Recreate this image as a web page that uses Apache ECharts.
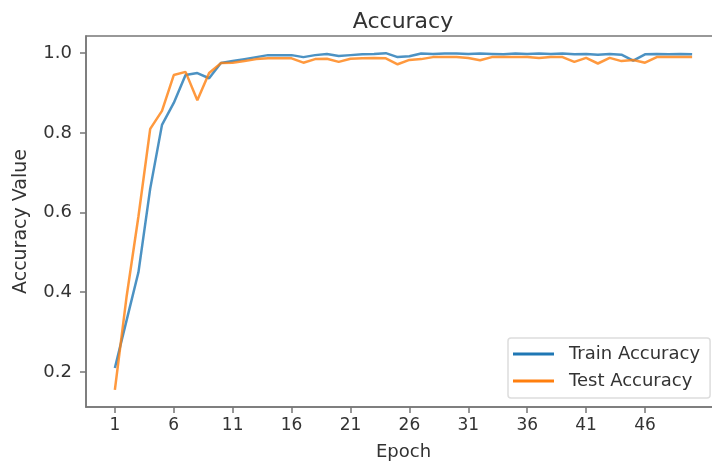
<!DOCTYPE html>
<html>
<head>
<meta charset="utf-8">
<script src="https://cdn.jsdelivr.net/npm/echarts@6/dist/echarts.min.js"></script>
<style>html,body{margin:0;padding:0;background:#fff}#c{width:712px;height:464px}</style>
</head>
<body>
<div id="c"></div>
<script>
var epochs = [];
for (var i = 1; i <= 50; i++) epochs.push(i);
var trainAcc = [0.21,0.33,0.45,0.66,0.82,0.875,0.945,0.95,0.937,0.975,
  0.98,0.985,0.99,0.995,0.995,0.995,0.99,0.995,0.998,0.993,
  0.995,0.997,0.998,1.0,0.99,0.992,0.999,0.998,0.999,0.999,
  0.998,0.999,0.998,0.997,0.999,0.998,0.999,0.998,0.999,0.997,
  0.998,0.996,0.998,0.996,0.981,0.997,0.998,0.997,0.998,0.997];
var testAcc = [0.155,0.39,0.59,0.81,0.855,0.945,0.953,0.882,0.95,0.975,
  0.976,0.98,0.985,0.987,0.987,0.987,0.976,0.985,0.986,0.978,
  0.986,0.987,0.988,0.987,0.972,0.983,0.985,0.99,0.99,0.99,
  0.988,0.982,0.99,0.99,0.99,0.99,0.988,0.99,0.99,0.978,
  0.988,0.974,0.988,0.98,0.983,0.976,0.99,0.99,0.99,0.99];
var xTicks = [1,6,11,16,21,26,31,36,41,46];
var yTicks = [0.2,0.4,0.6,0.8,1.0];

function pairs(arr){ return epochs.map(function(e,i){ return [e, arr[i]]; }); }

var font = 'DejaVu Sans';
var txt = '#333';
var axisCol = '#777';
var chart = echarts.init(document.getElementById('c'), null, {renderer:'canvas'});
chart.setOption({
  animation: false,
  backgroundColor: '#fff',
  title: {
    text: 'Accuracy', left: 398, top: 6, textAlign: 'center',
    textStyle: {fontFamily: font, fontSize: 22, fontWeight: 'normal', color: txt}
  },
  grid: {left: 86, top: 36, width: 635, height: 371, show: true, borderColor: axisCol, borderWidth: 1.5,
    containLabel: false, outerBoundsMode: 'none'},
  legend: {
    orient: 'vertical', left: 508, top: 338,
    padding: [6, 10, 7, 5], itemGap: 7, itemWidth: 41, itemHeight: 3,
    borderColor: '#ddd', borderWidth: 1.5, borderRadius: 3,
    icon: 'rect',
    textStyle: {fontFamily: font, fontSize: 18, lineHeight: 20, color: txt, padding: [0,0,0,10]},
    data: ['Train Accuracy', 'Test Accuracy']
  },
  xAxis: {
    type: 'value', min: -1.45, max: 52.45,
    name: 'Epoch', nameLocation: 'middle', nameGap: 36,
    nameTextStyle: {fontFamily: font, fontSize: 18, color: txt},
    axisLine: {show: true, onZero: false, lineStyle: {color: axisCol, width: 1.5}},
    axisTick: {show: true, length: 6, customValues: xTicks, lineStyle: {color: axisCol, width: 1.5}},
    axisLabel: {customValues: xTicks, margin: 10, fontFamily: font, fontSize: 17, color: txt},
    splitLine: {show: false}
  },
  yAxis: {
    type: 'value', min: 0.112, max: 1.043,
    name: 'Accuracy Value', nameLocation: 'middle', nameGap: 55, nameRotate: 90,
    nameTextStyle: {fontFamily: font, fontSize: 19, color: txt},
    axisLine: {show: true, onZero: false, lineStyle: {color: axisCol, width: 1.5}},
    axisTick: {show: true, length: 6, customValues: yTicks, lineStyle: {color: axisCol, width: 1.5}},
    axisLabel: {customValues: yTicks, margin: 14, fontFamily: font, fontSize: 18, color: txt,
      formatter: function(v){ return v.toFixed(1); }},
    splitLine: {show: false}
  },
  series: [
    {name: 'Train Accuracy', type: 'line', data: pairs(trainAcc), showSymbol: false,
     color: '#1f77b4', lineStyle: {color: '#1f77b4', width: 2.5, opacity: 0.8}},
    {name: 'Test Accuracy', type: 'line', data: pairs(testAcc), showSymbol: false,
     color: '#ff7f0e', lineStyle: {color: '#ff7f0e', width: 2.5, opacity: 0.8}}
  ]
});
</script>
</body>
</html>
